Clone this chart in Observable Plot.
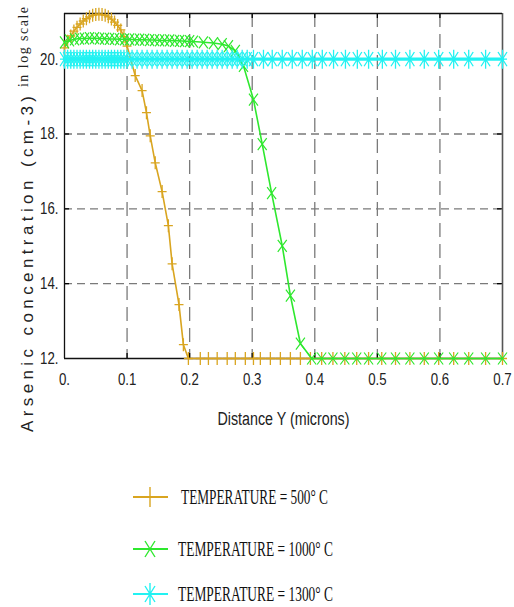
<!DOCTYPE html>
<html>
<head>
<meta charset="utf-8">
<script src="https://cdn.jsdelivr.net/npm/d3@7"></script>
<script src="https://cdn.jsdelivr.net/npm/@observablehq/plot@0.6"></script>
<style>
  html, body { margin: 0; padding: 0; background: #fff; }
  svg { display: block; }
</style>
</head>
<body>
<script>
// ---- data ----
const xTicks = [0, 0.1, 0.2, 0.3, 0.4, 0.5, 0.6, 0.7];
const xTickLabels = ["0.", "0.1", "0.2", "0.3", "0.4", "0.5", "0.6", "0.7"];
const yTicks = [12, 14, 16, 18, 20];
const yTickLabels = ["12.", "14.", "16.", "18.", "20."];
const xGrid = [0.1, 0.2, 0.3, 0.4, 0.5, 0.6];
const yGrid = [14, 16, 18, 20];

const seriesNames = ["TEMPERATURE = 500\u00b0 C", "TEMPERATURE = 1000\u00b0 C", "TEMPERATURE = 1300\u00b0 C"];
const seriesColors = ["#d9a520", "#2ee82e", "#22f2f2"];

const goldX = [0, 0.005, 0.01, 0.015, 0.02, 0.025, 0.03, 0.035, 0.04, 0.045, 0.05, 0.055, 0.06, 0.065, 0.07, 0.075, 0.08, 0.085, 0.09, 0.095, 0.1,
  0.113, 0.124, 0.131, 0.137, 0.145, 0.156, 0.166, 0.172, 0.183, 0.190, 0.198,
  0.217, 0.230, 0.244, 0.260, 0.273, 0.289, 0.302, 0.313, 0.329, 0.345, 0.361, 0.377, 0.393,
  0.411, 0.429, 0.448, 0.467, 0.486, 0.507, 0.529, 0.552, 0.575, 0.598, 0.622, 0.646, 0.673, 0.700];
const goldY = [20.30, 20.48, 20.62, 20.75, 20.85, 20.94, 21.02, 21.08, 21.13, 21.17, 21.19, 21.20, 21.19, 21.17, 21.13, 21.07, 20.99, 20.90, 20.78, 20.60, 20.35,
  19.56, 19.16, 18.57, 17.95, 17.23, 16.46, 15.55, 14.53, 13.44, 12.37, 12.00,
  12, 12, 12, 12, 12, 12, 12, 12, 12, 12, 12, 12, 12,
  12, 12, 12, 12, 12, 12, 12, 12, 12, 12, 12, 12, 12, 12];

const greenX = [0, 0.008, 0.016, 0.024, 0.032, 0.04, 0.048, 0.056, 0.064, 0.072, 0.08, 0.088, 0.096, 0.104, 0.112, 0.12, 0.128, 0.136, 0.144, 0.152, 0.16, 0.168, 0.176, 0.184, 0.192, 0.2,
  0.206, 0.222, 0.238, 0.252, 0.262, 0.273, 0.286, 0.302, 0.316, 0.331, 0.348, 0.361, 0.377, 0.395,
  0.411, 0.429, 0.448, 0.467, 0.486, 0.507, 0.529, 0.552, 0.575, 0.598, 0.622, 0.646, 0.673, 0.700];
const greenY = [20.45, 20.50, 20.53, 20.55, 20.55, 20.56, 20.56, 20.55, 20.55, 20.54, 20.54, 20.53, 20.53, 20.53, 20.52, 20.52, 20.52, 20.51, 20.51, 20.50, 20.50, 20.50, 20.49, 20.49, 20.48, 20.48,
  20.47, 20.45, 20.43, 20.40, 20.35, 20.22, 19.82, 18.92, 17.73, 16.42, 15.01, 13.68, 12.40, 12.00,
  12, 12, 12, 12, 12, 12, 12, 12, 12, 12, 12, 12, 12, 12];

const cyanX = [0, 0.005, 0.01, 0.015, 0.02, 0.025, 0.03, 0.035, 0.04, 0.045, 0.05, 0.055, 0.06, 0.065, 0.07, 0.075, 0.08, 0.085, 0.09, 0.095, 0.1,
  0.108, 0.116, 0.124, 0.132, 0.14, 0.148, 0.156, 0.164, 0.172, 0.18, 0.188, 0.196, 0.204, 0.212, 0.22, 0.228, 0.236, 0.244, 0.252, 0.26, 0.268, 0.276, 0.284, 0.292,
  0.302, 0.318, 0.332, 0.348, 0.364, 0.380, 0.396, 0.412, 0.430, 0.449, 0.468, 0.486, 0.508, 0.529, 0.552, 0.575, 0.598, 0.622, 0.646, 0.673, 0.700];
const cyanY = [20, 20, 20, 20, 20, 20, 20, 20, 20, 20, 20, 20, 20, 20, 20, 20, 20, 20, 20, 20, 20,
  20, 20, 20, 20, 20, 20, 20, 20, 20, 20, 20, 20, 20, 20, 20, 20, 20, 20, 20, 20, 20, 20, 20, 20,
  20, 20, 20, 20, 20, 20, 20, 20, 20, 20, 20, 20, 20, 20, 20, 20, 20, 20, 20, 20, 20];

const xTitle = "Distance Y (microns)";
const yTitleMain = "Arsenic concentration (cm-3)";
const yTitleExtra = "in log scale";

// ---- build ----
const toRows = (xs, ys) => xs.map((x, i) => ({x, y: ys[i]}));
const gold = toRows(goldX, goldY);
const green = toRows(greenX, greenY);
const cyan = toRows(cyanX, cyanY);

function sym(drawFn) { return {draw(ctx) { drawFn(ctx); }}; }
const plusSym = (w, h) => sym(c => { c.moveTo(-w, 0); c.lineTo(w, 0); c.moveTo(0, -h); c.lineTo(0, h); });
const timesSym = (w, h) => sym(c => { c.moveTo(-w, -h); c.lineTo(w, h); c.moveTo(w, -h); c.lineTo(-w, h); });
const starSym = (w, h) => sym(c => {
  c.moveTo(0, -h); c.lineTo(0, h);
  c.moveTo(-w, 0); c.lineTo(w, 0);
  c.moveTo(-w, -h * 0.75); c.lineTo(w, h * 0.75);
  c.moveTo(w, -h * 0.75); c.lineTo(-w, h * 0.75);
});

const W = 514, H = 440;
const mL = 64, mR = 12, mT = 13, mB = 82;
const frameW = W - mL - mR, frameH = H - mT - mB;
const yMax = 21.22;
const sansFont = "'Liberation Sans', Arial, sans-serif";
const serifFont = "'Liberation Serif', 'Times New Roman', serif";

const chart = Plot.plot({
  width: W, height: H,
  marginLeft: mL, marginRight: mR, marginTop: mT, marginBottom: mB,
  x: {domain: [0, 0.7]},
  y: {domain: [12, yMax]},
  style: {fontFamily: sansFont, fontSize: "17px", color: "#222", background: "#fff"},
  marks: [
    Plot.gridX(xGrid, {stroke: "#7a7a7a", strokeOpacity: 1, strokeWidth: 1.3, strokeDasharray: "14,7"}),
    Plot.gridY(yGrid, {stroke: "#7a7a7a", strokeOpacity: 1, strokeWidth: 1.3, strokeDasharray: "8,5"}),
    // inward ticks
    Plot.ruleX(xGrid, {insetTop: frameH - 5, stroke: "#000", strokeWidth: 1.3}),
    Plot.ruleX(xGrid, {insetBottom: frameH - 5, stroke: "#000", strokeWidth: 1.3}),
    Plot.ruleY(yGrid, {insetLeft: frameW - 5, stroke: "#000", strokeWidth: 1.3}),
    Plot.ruleY(yGrid, {insetRight: frameW - 5, stroke: "#000", strokeWidth: 1.3}),
    // frame
    Plot.ruleX([0.7], {stroke: "#555", strokeWidth: 1.6}),
    Plot.ruleY([yMax], {stroke: "#111", strokeWidth: 1.6}),
    Plot.ruleX([0], {stroke: "#111", strokeWidth: 1.3}),
    Plot.ruleY([12], {stroke: "#111", strokeWidth: 1.3}),
    Plot.axisX(xTicks, {tickSize: 0, tickPadding: 14, tickFormat: d => xTickLabels[xTicks.indexOf(d)], label: null, fill: "#222", fontSize: 17}),
    Plot.axisY(yTicks, {tickSize: 0, tickPadding: 6, tickFormat: d => yTickLabels[yTicks.indexOf(d)], label: null, fill: "#222", fontSize: 17}),
    Plot.text([xTitle], {frameAnchor: "bottom", dy: 66, fontSize: 18, fill: "#222"}),
    // series
    Plot.line(gold, {x: "x", y: "y", stroke: seriesColors[0], strokeWidth: 1.6}),
    Plot.dot(gold, {x: "x", y: "y", symbol: plusSym(4.5, 6.5), r: 1, fill: "none", stroke: seriesColors[0], strokeWidth: 1.3}),
    Plot.line(green, {x: "x", y: "y", stroke: seriesColors[1], strokeWidth: 1.6}),
    Plot.dot(green, {x: "x", y: "y", symbol: timesSym(4.5, 6), r: 1, fill: "none", stroke: seriesColors[1], strokeWidth: 1.2}),
    Plot.line(cyan, {x: "x", y: "y", stroke: seriesColors[2], strokeWidth: 3.2}),
    Plot.dot(cyan, {x: "x", y: "y", symbol: starSym(4.5, 9.5), r: 1, fill: "none", stroke: seriesColors[2], strokeWidth: 1.3})
  ]
});
document.body.appendChild(chart);

// condense text (the reference uses a tall, narrow face)
function squeeze(nodes, factor) {
  nodes.forEach(n => {
    const L = n.getComputedTextLength();
    n.setAttribute("textLength", (L * factor).toFixed(1));
    n.setAttribute("lengthAdjust", "spacingAndGlyphs");
  });
}
const svgSel = d3.select(chart);
squeeze(chart.querySelectorAll('g[aria-label="x-axis tick label"] text'), 0.78);
squeeze(chart.querySelectorAll('g[aria-label="y-axis tick label"] text'), 0.78);
chart.querySelectorAll('g[aria-label="text"] text').forEach(n => {
  n.setAttribute("textLength", 132);
  n.setAttribute("lengthAdjust", "spacingAndGlyphs");
});

// y-axis title (rotated, two fonts)
svgSel.append("text")
  .attr("transform", `translate(33, ${H - 8}) rotate(-90)`)
  .attr("text-anchor", "start")
  .attr("font-family", sansFont)
  .attr("font-size", 17)
  .attr("fill", "#222")
  .attr("textLength", 336)
  .attr("lengthAdjust", "spacing")
  .text(yTitleMain);
svgSel.append("text")
  .attr("transform", `translate(28, 87) rotate(-90)`)
  .attr("text-anchor", "start")
  .attr("font-family", serifFont)
  .attr("font-size", 14)
  .attr("fill", "#222")
  .attr("textLength", 80)
  .attr("lengthAdjust", "spacing")
  .text(yTitleExtra);

// legend
const legendH = 607 - H;
const legend = d3.create("svg").attr("width", W).attr("height", legendH);
const rowY = [57, 109, 154];
const legendSyms = [
  g => g.append("path").attr("d", "M0,-10L0,10"),
  g => g.append("path").attr("d", "M-5,-8L5,8M5,-8L-5,8"),
  g => g.append("path").attr("d", "M0,-11L0,11M-5,-8L5,8M5,-8L-5,8")
];
const textLens = [147, 155, 155];
seriesNames.forEach((name, i) => {
  const g = legend.append("g").attr("transform", `translate(0, ${rowY[i]})`);
  g.append("line").attr("x1", 133).attr("x2", 168).attr("y1", 0).attr("y2", 0)
    .attr("stroke", seriesColors[i]).attr("stroke-width", 2);
  const sg = g.append("g").attr("transform", "translate(150,0)")
    .attr("stroke", seriesColors[i]).attr("stroke-width", 1.4).attr("fill", "none");
  legendSyms[i](sg);
  g.append("text").attr("x", i === 0 ? 181 : 178).attr("y", 7)
    .attr("font-family", serifFont)
    .attr("font-size", 21)
    .attr("fill", "#111")
    .attr("textLength", textLens[i])
    .attr("lengthAdjust", "spacingAndGlyphs")
    .text(name);
});
document.body.appendChild(legend.node());
</script>
</body>
</html>
